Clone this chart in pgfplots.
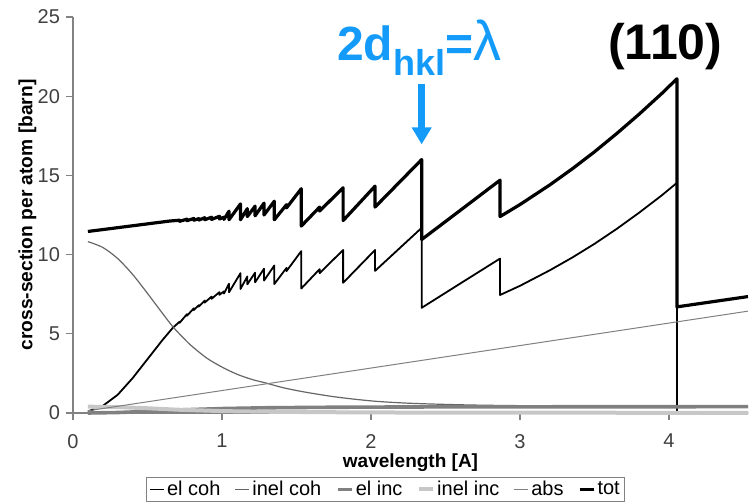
\documentclass[border=0pt]{standalone}
\usepackage{pgfplots}
\pgfplotsset{compat=1.18}
\usepackage{fontspec}
\setmainfont{Liberation Sans}
\usetikzlibrary{arrows.meta}
\definecolor{hklblue}{RGB}{20,155,250}
\definecolor{axisgray}{RGB}{130,130,130}

\begin{document}
\begin{tikzpicture}
\path[use as bounding box] (0,0) rectangle (375bp,252bp);
\begin{axis}[
  at={(36.5bp,45.5bp)}, anchor=south west,
  scale only axis, width=337.5bp, height=198bp,
  xmin=0, xmax=4.53, ymin=0, ymax=25,
  axis x line*=bottom, axis y line*=left,
  axis line style={axisgray, line width=0.6bp, -},
  xtick={0,1,2,3,4}, ytick={0,5,10,15,20,25},
  minor tick num=0,
  tick align=outside, major tick length=3.5bp,
  tick style={axisgray, line width=0.6bp},
  /pgf/number format/assume math mode=true,
  tick label style={font=\fontsize{10bp}{12bp}\selectfont, text=black!75},
  xticklabel style={yshift=-3.5bp},
  yticklabel style={xshift=0.5bp},
  xlabel={wavelength [A]},
  ylabel={cross-section per atom [barn]},
  xlabel style={at={(axis description cs:0.5,-0.125)}, anchor=center,
    font=\bfseries\fontsize{9.5bp}{11bp}\selectfont},
  ylabel style={at={(axis description cs:-0.0674,0.5)}, anchor=center,
    font=\bfseries\fontsize{9.6bp}{11bp}\selectfont},
  clip=false,
  legend columns=-1,
  legend style={at={(axis description cs:0.463,-0.193)}, anchor=center,
    draw=axisgray, line width=0.5bp, inner xsep=1bp, inner ysep=0.5bp,
    font=\fontsize{10bp}{12bp}\selectfont,
    nodes={inner xsep=1.2bp, inner ysep=1bp},
    /tikz/every even column/.append style={column sep=6bp}},
  legend image code/.code={\draw[#1] (0bp,0bp) -- (7bp,0bp);},
  every axis plot/.append style={line join=round},
]
% elastic coherent
\addplot[black, line width=0.9bp] coordinates {
(0.10,0.10)(0.20,0.45)(0.30,1.15)(0.40,2.20)(0.50,3.40)(0.60,4.60)(0.67,5.38)
(0.715,5.76)(0.715,5.69)
(0.765,6.24)(0.765,6.14)
(0.811,6.61)(0.811,6.50)
(0.845,6.81)(0.845,6.72)
(0.884,7.10)(0.884,6.97)
(0.930,7.35)(0.930,7.21)
(0.983,7.63)(0.983,7.46)
(1.013,7.68)(1.013,7.54)
(1.047,8.16)(1.047,7.62)
(1.124,8.83)(1.124,7.83)
(1.170,8.62)(1.170,8.12)
(1.222,8.86)(1.222,8.25)
(1.282,9.11)(1.282,8.36)
(1.351,9.31)(1.351,8.14)
(1.433,9.16)(1.433,8.96)
(1.532,10.22)(1.532,7.86)
(1.655,9.08)(1.655,8.83)
(1.813,10.29)(1.813,8.22)
(2.027,10.29)(2.027,8.97)
(2.340,11.69)(2.340,6.64)
(2.600,8.18)
(2.866,9.75)(2.866,7.45)
(3.000,8.03)(3.200,9.01)(3.350,9.81)(3.500,10.68)(3.650,11.63)
(3.800,12.65)(3.950,13.73)
(4.053,14.53)(4.053,0.00)
(4.530,0.00)
};
\addlegendentry{el coh}
% inelastic coherent
\addplot[black!60, line width=0.6bp, smooth, tension=0.5] coordinates {
(0.10,10.82)(0.20,10.45)(0.30,9.75)(0.40,8.75)(0.50,7.55)(0.60,6.30)
(0.67,5.45)(0.75,4.65)(0.80,4.20)(0.90,3.45)(1.00,2.90)(1.10,2.45)
(1.20,2.12)(1.30,1.88)(1.40,1.62)(1.50,1.42)(1.60,1.25)(1.75,1.03)
(1.90,0.86)(2.06,0.72)(2.30,0.60)(2.70,0.50)(3.20,0.45)(4.00,0.42)(4.53,0.40)
};
\addlegendentry{inel coh}
% elastic incoherent
\addplot[black!50, line width=1.8bp] coordinates {
(0.10,0.00)(0.30,0.03)(0.50,0.10)(0.70,0.19)(1.00,0.28)(1.30,0.33)
(1.70,0.36)(2.20,0.38)(3.00,0.39)(4.53,0.40)
};
\addlegendentry{el inc}
% inelastic incoherent
\addplot[black!22, line width=2bp] coordinates {
(0.10,0.40)(0.30,0.37)(0.50,0.30)(0.70,0.21)(1.00,0.12)(1.30,0.08)
(1.70,0.05)(2.20,0.03)(3.00,0.02)(4.53,0.01)
};
\addlegendentry{inel inc}
% absorption
\addplot[black!50, line width=0.5bp] coordinates {
(0.10,0.14)(4.53,6.43)
};
\addlegendentry{abs}
% total
\addplot[black, line width=1.6bp] coordinates {
(0.10,11.46)(0.40,11.82)(0.65,12.12)
(0.715,12.17)(0.715,12.10)
(0.765,12.24)(0.765,12.14)
(0.811,12.28)(0.811,12.17)
(0.845,12.27)(0.845,12.18)
(0.884,12.33)(0.884,12.20)
(0.930,12.36)(0.930,12.22)
(0.983,12.42)(0.983,12.25)
(1.013,12.36)(1.013,12.22)
(1.047,12.74)(1.047,12.20)
(1.124,13.20)(1.124,12.20)
(1.170,12.90)(1.170,12.40)
(1.222,13.06)(1.222,12.45)
(1.282,13.25)(1.282,12.50)
(1.351,13.37)(1.351,12.20)
(1.433,13.15)(1.433,12.95)
(1.532,14.16)(1.532,11.80)
(1.655,13.00)(1.655,12.75)
(1.813,14.22)(1.813,12.15)
(2.027,14.32)(2.027,13.00)
(2.340,16.00)(2.340,10.95)
(2.600,12.80)
(2.866,14.70)(2.866,12.40)
(3.000,13.16)(3.200,14.40)(3.350,15.41)(3.500,16.49)(3.650,17.65)
(3.800,18.87)(3.950,20.16)
(4.053,21.10)(4.053,6.70)
(4.530,7.35)
};
\addlegendentry{tot}

% Bragg condition label and arrow at the (211) edge
\node[anchor=base west, inner sep=0pt, text=hklblue,
  font=\bfseries\fontsize{24bp}{24bp}\selectfont]
  at (axis cs:1.77,22.23)
  {2d\raisebox{-7.5bp}{\fontsize{18bp}{18bp}\selectfont hkl}={\mdseries\fontsize{28bp}{28bp}\selectfont λ}};
\draw[hklblue, line width=3.3bp, -{Triangle[width=9.5bp,length=8.5bp]}]
  (axis cs:2.34,20.76) -- (axis cs:2.34,16.96);
% reflection label
\node[anchor=base west, inner sep=0pt,
  font=\bfseries\fontsize{25bp}{25bp}\selectfont]
  at (axis cs:3.59,22.34) {(110)};
\end{axis}
\end{tikzpicture}
\end{document}
